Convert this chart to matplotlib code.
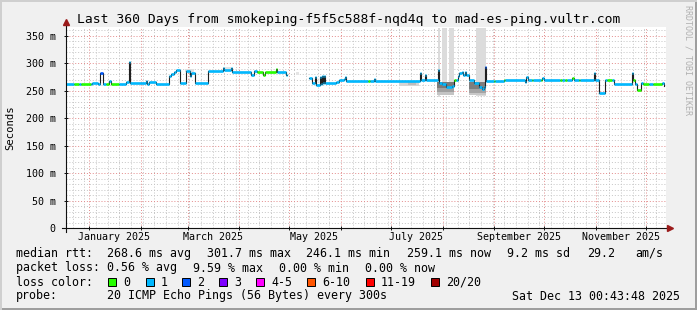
import numpy as np
import matplotlib
matplotlib.use('Agg')
import matplotlib.pyplot as plt
import matplotlib.dates as mdates
from matplotlib.ticker import MultipleLocator
from matplotlib.patches import Rectangle

# time window: last 360 days ending at the graph timestamp
t_end = np.datetime64('2025-12-13T00:43:48')
t_start = t_end - np.timedelta64(360, 'D')

# median rtt (ms) as steps: day offset from start, value, loss bucket
med_day = [0.0, 4.8, 7.8, 9.0, 15.0, 15.6, 19.2, 20.4, 22.2, 23.8, 25.8, 27.0, 31.8, 35.8,
           38.0, 38.6, 47.8, 48.8, 49.8, 53.8, 61.8, 62.8, 64.8, 65.8, 68.2, 71.8, 74.2,
           75.2, 77.2, 85.2, 94.2, 94.8, 99.0, 99.8, 111.0, 112.8, 114.6, 118.2, 119.4,
           125.8, 126.6, 131.8, 132.8,
           145.8, 147.4, 149.4, 150.0, 152.2, 152.8, 153.8, 154.4, 154.8, 155.4, 162.0,
           163.8, 166.8, 167.4, 168.0, 181.2, 182.4, 184.5, 185.4, 212.4, 213.0, 215.2,
           215.8, 223.2, 223.8, 225.6, 227.8, 231.6, 232.8, 234.0, 235.2, 235.8, 237.6,
           238.2, 239.4, 240.0, 241.8, 244.8, 247.8, 249.6, 250.8, 251.6, 252.2, 256.8,
           257.4, 262.8, 263.4, 275.4, 276.0, 277.2, 279.6, 280.2, 284.8, 285.6, 286.8,
           296.4, 297.6, 299.4, 300.6, 303.6, 305.1, 307.8, 308.7, 316.8, 317.4, 319.8,
           323.4, 324.6, 327.6, 328.8, 339.4, 340.0, 341.4, 342.6, 345.0, 346.2, 349.8,
           352.2, 357.6, 358.5]
med_ms = [262, 262, 262, 262, 262, 264, 261, 281, 262, 262, 267, 262, 262, 265,
          301.7, 264, 267, 262, 266, 262, 276, 280, 284, 287, 263, 286, 276,
          282, 263, 286, 291, 287, 291, 284, 279, 286, 284, 279, 284,
          290, 284, 278, np.nan,
          272, 263, 275, 260, 275, 261, 276, 263, 276, 263, 266,
          269, 271, 275, 268, 268, 268, 271, 268, 282, 269, 278,
          269, 287, 264, 261, 257, 259, 269, 270, 277, 281, 284,
          279, 284, 278, 269, 263, 257, 253, 257, 293, 268, 268,
          268, 270, 270, 265, 275, 270, 270, 270, 270, 272, 270,
          269, 269, 269, 269, 273, 269, 269, 269, 281, 269, 246,
          269, 269, 269, 261, 281, 269, 262, 251, 263, 261, 261,
          261, 264, 259]
med_loss = [1, 0, 1, 0, 1, 1, 1, 2, 1, 0, 1, 0, 1, 1,
            1, 1, 1, 1, 1, 1, 1, 1, 1, 1, 1, 1, 1,
            1, 1, 1, 1, 1, 1, 1, 1, 1, 0, 0, 0,
            0, 1, 1, -1,
            1, 1, 1, 1, 1, 1, 1, 1, 1, 1, 1,
            1, 1, 1, 1, 0, 1, 1, 1, 1, 1, 1,
            1, 1, 1, 1, 1, 1, 0, 1, 1, 1, 1,
            1, 1, 1, 1, 1, 1, 1, 1, 2, 1, 0,
            1, 0, 1, 1, 1, 1, 0, 1, 0, 1, 1,
            0, 1, 0, 1, 0, 1, 0, 1, 1, 1, 1,
            1, 0, 1, 1, 1, 0, 1, 0, 1, 0, 1,
            0, 1, 0]
med_last = 359.0

# smoke boxes: day from, day to, low ms, high ms, gray
smoke_d0 = [223.4, 225.4, 229.8, 245.8,
            222.6, 222.6, 222.6, 241.8, 241.8, 241.8,
            199.8, 205.0, 71.4, 94.2, 138.0]
smoke_d1 = [224.4, 228.4, 232.8, 251.8,
            232.8, 232.8, 232.8, 252.0, 252.0, 252.0,
            211.8, 210.0, 76.8, 99.0, 140.0]
smoke_lo = [239, 245, 245, 240,
            255, 248, 241, 252, 246, 242,
            258, 260, 284, 286, 278]
smoke_hi = [363, 363, 363, 363,
            265, 255, 248, 265, 252, 246,
            268, 266, 290, 292, 284]
smoke_col = ['#dcdcdc', '#dcdcdc', '#dcdcdc', '#dcdcdc',
             '#7a7a7a', '#a0a0a0', '#c4c4c4', '#7e7e7e', '#a4a4a4', '#c8c8c8',
             '#d4d4d4', '#bcbcbc', '#e0e0e0', '#e4e4e4', '#e4e4e4']

loss_names = ['0', '1', '2', '3', '4-5', '6-10', '11-19', '20/20']
loss_cols = ['#26ff00', '#00b8ff', '#0059ff', '#7e00ff', '#ff00ff', '#ff5500', '#ff0000', '#a10000']

y_ticks = [0, 50, 100, 150, 200, 250, 300, 350]
month_labels = ['January 2025', 'March 2025', 'May 2025', 'July 2025', 'September 2025', 'November 2025']

stats_rtt = ['median rtt:', '268.6 ms avg', '301.7 ms max', '246.1 ms min', '259.1 ms now',
             '9.2 ms sd', '29.2', 'am/s']
stats_loss = ['packet loss:', '0.56 % avg', '9.59 % max', '0.00 % min', '0.00 % now']
probe_txt = '20 ICMP Echo Pings (56 Bytes) every 300s'
stamp_txt = 'Sat Dec 13 00:43:48 2025'
title = 'Last 360 Days from smokeping-f5f5c588f-nqd4q to mad-es-ping.vultr.com'

mono = 'DejaVu Sans Mono'
W, H = 697, 310
fig = plt.figure(figsize=(W / 100, H / 100), dpi=100)
fig.patch.set_facecolor('#f0f0f0')

def px(x, y):
    return x / W, 1 - y / H

# 3d border
fig.add_artist(Rectangle((0, 0), 1, 2 / H, transform=fig.transFigure, color='#9e9e9e', lw=0))
fig.add_artist(Rectangle((1 - 2 / W, 0), 2 / W, 1, transform=fig.transFigure, color='#9e9e9e', lw=0))
fig.add_artist(Rectangle((0, 1 - 2 / H), 1, 2 / H, transform=fig.transFigure, color='#cfcfcf', lw=0))
fig.add_artist(Rectangle((0, 0), 2 / W, 1, transform=fig.transFigure, color='#cfcfcf', lw=0))

L, R, T, B = 66, 666, 27, 228
ax = fig.add_axes([L / W, 1 - B / H, (R - L) / W, (B - T) / H])
ax.set_facecolor('white')

def to_t(d):
    return t_start + (np.array(d) * 86400).astype('timedelta64[s]')

ax.set_xlim(t_start, t_end)
ax.set_ylim(0, 365.5)

# grid
ax.xaxis.set_major_locator(mdates.MonthLocator())
ax.xaxis.set_minor_locator(mdates.WeekdayLocator(byweekday=mdates.SU))
ax.set_yticks(y_ticks)
ax.yaxis.set_minor_locator(MultipleLocator(10))
ax.grid(which='minor', color='#c4c4c4', lw=0.7, ls=(0, (1, 2)))
ax.grid(which='major', color='#e38a8a', lw=0.7, ls=(0, (1, 2)))
ax.set_axisbelow(True)

ax.set_yticklabels([('%d m' % v) if v else '0' for v in y_ticks], family=mono, fontsize=7.2)
ax.set_xticklabels([])
ax.tick_params(which='both', direction='inout', color='#101010', width=0.7)
ax.tick_params(which='major', length=3, pad=5)
ax.tick_params(which='minor', length=0)
ax.tick_params(axis='y', pad=6)
for s in ax.spines.values():
    s.set_visible(False)

# month labels, centred 15 days after the month start
lab_pos = mdates.MonthLocator(bymonth=(1, 3, 5, 7, 9, 11), bymonthday=16).tick_values(
    t_start.astype(object), t_end.astype(object))
for p, lab in zip(lab_pos, month_labels):
    ax.text(p, -0.045, lab, transform=ax.get_xaxis_transform(), ha='center', va='center',
            family=mono, fontsize=7.2)

# smoke
for d0, d1, lo, hi, c in zip(smoke_d0, smoke_d1, smoke_lo, smoke_hi, smoke_col):
    ax.fill_between(to_t([d0, d1]), [lo, lo], [hi, hi], color=c, lw=0)

# median line
t_med = to_t(med_day)
ax.step(t_med, med_ms, where='post', color='#202020', lw=0.8)
ends = list(med_day[1:]) + [med_last]
for d0, d1, v, lc in zip(med_day, ends, med_ms, med_loss):
    if lc < 0:
        continue
    ax.hlines(v, to_t(d0), to_t(d1), color=loss_cols[lc], lw=1.9, capstyle='butt')

# axes with arrows
ax.plot([-0.007, 1.004], [0, 0], transform=ax.transAxes, color='#101010', lw=0.8, clip_on=False)
ax.plot([0, 0], [-0.02, 1.02], transform=ax.transAxes, color='#101010', lw=0.8, clip_on=False)
ax.plot([1.006], [0], marker='>', ms=4.5, color='#9b1b1b', transform=ax.transAxes, clip_on=False)
ax.plot([0], [1.025], marker='^', ms=4.5, color='#9b1b1b', transform=ax.transAxes, clip_on=False)

# texts
fig.text(*px(348.5, 19), title, ha='center', va='center', family=mono, fontsize=9.4)
fig.text(*px(10, 128), 'Seconds', rotation=90, ha='center', va='center', family=mono, fontsize=7.6)
fig.text(*px(688, 60), 'RRDTOOL / TOBI OETIKER', rotation=-90, ha='center', va='center',
         family=mono, fontsize=6, color='#b0b0b0')

fs = 8.4
for x, s in zip([16, 107, 207, 306, 407, 507, 587, 635], stats_rtt):
    fig.text(*px(x, 253.5), s, ha='left', va='center', family=mono, fontsize=fs)
for x, s in zip([16, 107, 193, 279, 365], stats_loss):
    fig.text(*px(x, 268), s, ha='left', va='center', family=mono, fontsize=fs)
fig.text(*px(16, 282), 'loss color:', ha='left', va='center', family=mono, fontsize=fs)
box_x = [108, 146, 182, 219, 256, 307, 366, 431]
for bx, name, c in zip(box_x, loss_names, loss_cols):
    fig.add_artist(Rectangle(px(bx, 285.5), 8 / W, 8 / H, transform=fig.transFigure,
                             facecolor=c, edgecolor='black', lw=0.7))
    fig.text(*px(bx + 15, 282), name, ha='left', va='center', family=mono, fontsize=fs)
fig.text(*px(16, 296), 'probe:', ha='left', va='center', family=mono, fontsize=fs)
fig.text(*px(107, 296), probe_txt, ha='left', va='center', family=mono, fontsize=fs)
fig.text(*px(680, 296), stamp_txt, ha='right', va='center', family=mono, fontsize=fs)

fig.savefig('out.png', dpi=100, facecolor=fig.get_facecolor())
